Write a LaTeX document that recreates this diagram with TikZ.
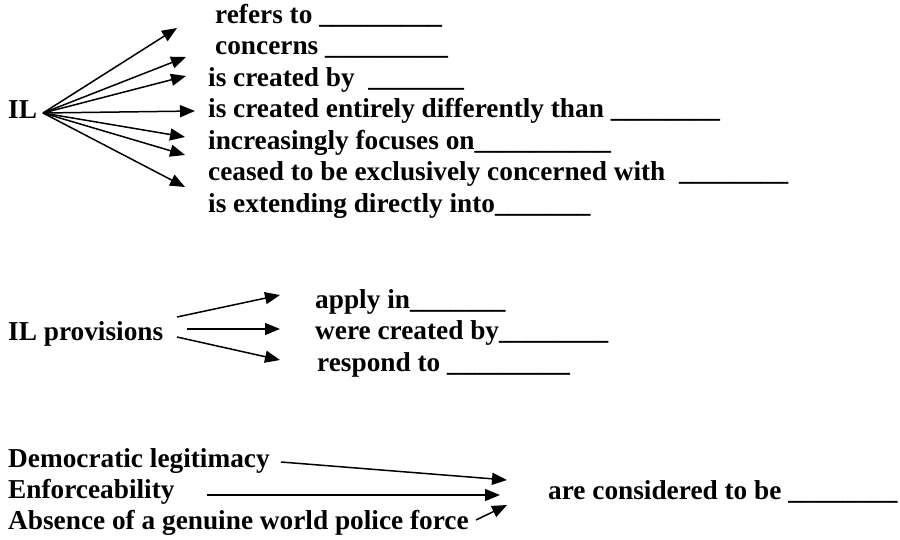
\documentclass[tikz,border=0pt]{standalone}
\usepackage{fontspec}
\setmainfont{Liberation Serif}
\usetikzlibrary{arrows.meta}
\begin{document}
\begin{tikzpicture}[x=1pt,y=-1pt,
  lbl/.style={anchor=base west,inner sep=0pt,font=\bfseries\fontsize{27.3}{31}\selectfont},
  arr/.style={line width=1.5pt,-{Triangle[length=15pt,width=12pt]}}]
\useasboundingbox (0,0) rectangle (900,539);
% top group
\node[lbl] (il) at (8,118) {IL};
\coordinate (o) at (43,113);
\node[lbl] (t1) at (215,23) {refers to \_\_\_\_\_\_\_\_\_};
\node[lbl] (t2) at (215,54.5) {concerns \_\_\_\_\_\_\_\_\_};
\node[lbl] (t3) at (208,86) {is created by \ \_\_\_\_\_\_\_};
\node[lbl] (t4) at (208,117.5) {is created entirely differently than \_\_\_\_\_\_\_\_};
\node[lbl] (t5) at (208,149) {increasingly focuses on\_\_\_\_\_\_\_\_\_\_};
\node[lbl] (t6) at (208,180.5) {ceased to be exclusively concerned with \ \_\_\_\_\_\_\_\_};
\node[lbl] (t7) at (208,212) {is extending directly into\_\_\_\_\_\_\_};
\coordinate (h1) at (177,28);
\coordinate (h2) at (186,57);
\coordinate (h3) at (186,76);
\coordinate (h4) at (195,111);
\coordinate (h5) at (185,137);
\coordinate (h6) at (185,155);
\coordinate (h7) at (185,187);
\foreach \h in {h1,h2,h3,h4,h5,h6,h7} \draw[arr] (o) -- (\h);
% middle group
\node[lbl] (ilp) at (8,340) {IL provisions};
\node[lbl] (m1) at (315,308) {apply in\_\_\_\_\_\_\_};
\node[lbl] (m2) at (315,339) {were created by\_\_\_\_\_\_\_\_};
\node[lbl] (m3) at (317,371) {respond to \_\_\_\_\_\_\_\_\_};
\coordinate (a1) at (177,317); \coordinate (b1) at (280,295);
\coordinate (a2) at (187,329); \coordinate (b2) at (280,329);
\coordinate (a3) at (177,337); \coordinate (b3) at (280,360);
\draw[arr] (a1) -- (b1);
\draw[arr] (a2) -- (b2);
\draw[arr] (a3) -- (b3);
% bottom group
\node[lbl] (d1) at (8,467) {Democratic legitimacy};
\node[lbl] (d2) at (8,498) {Enforceability};
\node[lbl] (d3) at (8,529) {Absence of a genuine world police force};
\node[lbl] (res) at (548,499) {are considered to be \_\_\_\_\_\_\_\_};
\coordinate (s1) at (281,462); \coordinate (e1) at (507,480);
\coordinate (s2) at (207,495); \coordinate (e2) at (500,495);
\coordinate (s3) at (476,520); \coordinate (e3) at (507,505);
\draw[arr] (s1) -- (e1);
\draw[arr] (s2) -- (e2);
\draw[arr] (s3) -- (e3);
\end{tikzpicture}
\end{document}
